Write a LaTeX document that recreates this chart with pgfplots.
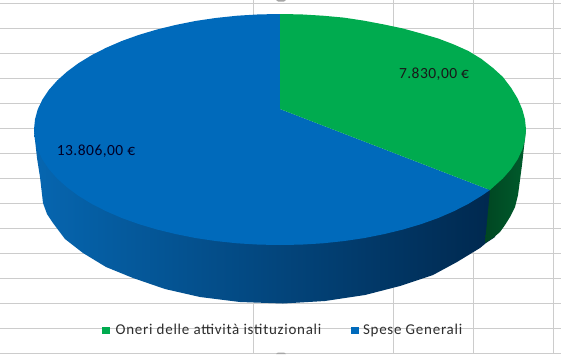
\documentclass[border=0pt]{standalone}
\usepackage{pgfplots}
\usepackage{fontspec}
\setmainfont{Carlito}
\newfontfamily\legfont[LetterSpace=5]{Carlito}
\newfontfamily\labfont[LetterSpace=3]{Carlito}
\pgfplotsset{compat=1.18}
\definecolor{gridc}{HTML}{CCCCCC}
\definecolor{topgreen}{HTML}{00AB4F}
\definecolor{topblue}{HTML}{006ABB}
\begin{document}
\begin{tikzpicture}
\begin{axis}[
  name=chart,
  scale only axis, width=561pt, height=354pt,
  xmin=0, xmax=561, ymin=0, ymax=354, y dir=reverse,
  axis line style={draw=none}, major tick length=0pt,
  xtick={253,393,473,553},
  ytick={3,28,53,78,103,128,153,178,203,228,253,278,303,328,353},
  xticklabels={}, yticklabels={},
  grid=major, grid style={gridc, line width=0.9pt},
  legend columns=2,
  legend style={at={(axis cs:102.5,330)}, anchor=west, draw=none, fill=none,
    font=\legfont\fontsize{15}{16}\selectfont, text=black!82,
    inner sep=0pt, outer sep=0pt,
    /tikz/column 1/.style={column sep=6.5pt},
    /tikz/column 2/.style={column sep=30pt},
    /tikz/column 3/.style={column sep=5pt},
    nodes={inner sep=0pt}},
  legend cell align=left,
]
% legend
\addlegendimage{only marks, mark=square*, mark size=3.3pt, color=topgreen}
\addlegendentry{Oneri delle attività istituzionali}
\addlegendimage{only marks, mark=square*, mark size=3.3pt, color=topblue}
\addlegendentry{Spese Generali}

% selection handles at the chart frame
\addplot[fill=black!35, draw=none] coordinates {(276,0) (286,0) (284,1.5) (278,1.5)} --cycle;
\addplot[fill=black!35, draw=none] coordinates {(276,354) (286,354) (284,352.5) (278,352.5)} --cycle;

% side of the blue slice
\addplot[draw=none, shade, left color={rgb,255:red,6;green,102;blue,176},
  middle color={rgb,255:red,0;green,56;blue,104}, right color={rgb,255:red,0;green,40;blue,78}]
 coordinates {
 (34,129.5) (35,140) (37,158) (40,177) (43,203) (47,214) (53,223) (65,239) (83,253)
 (106,267) (133,278) (165,289) (200,297) (240,302) (283,303.5) (325,301) (365,295)
 (400,286) (433,275) (457,262) (480,248) (486,243) (495,237) (495,190)
 } --cycle;

% side of the green slice
\addplot[draw=none, shade, left color={rgb,255:red,0;green,70;blue,34},
  right color={rgb,255:red,0;green,92;blue,44}]
 coordinates {
 (490,190) (485,243) (493,238) (500,232) (505,225) (510,217) (515,207) (518,195)
 (520,180) (522,165) (524,147) (525,138) (526,129.5)
 } --cycle;

% top of the blue slice
\addplot[fill=topblue, draw=none] coordinates {
 (280,109) (490,190) (481.5,195.8) (468.4,203.8) (453.9,211.2) (438.2,218) (421.2,224.1)
 (403,229.5) (384.1,234.1) (364.1,238.1) (343.7,241.1) (322.8,243.3) (301.4,244.6) (280,245)
 (258.6,244.6) (237.2,243.3) (216.3,241.1) (195.9,238.1) (175.9,234.1) (157,229.5)
 (138.8,224.1) (121.8,218) (106.1,211.2) (91.6,203.8) (78.5,195.8) (67,187.3) (57.1,178.4)
 (48.8,169) (42.4,159.4) (37.7,149.6) (35,139.6) (34,129.5) (35,119.4) (37.7,109.4)
 (42.4,99.6) (48.8,90) (57.1,80.6) (67,71.7) (78.5,63.2) (91.6,55.2) (106.1,47.8)
 (121.8,41) (138.8,34.9) (157,29.5) (175.9,24.9) (195.9,20.9) (216.3,17.9) (237.2,15.7)
 (258.6,14.4) (280,14)
 } --cycle;

% top of the green slice
\addplot[fill=topgreen, draw=none] coordinates {
 (280,109) (280,14) (301.4,14.4) (322.8,15.7) (343.7,17.6) (364.1,20.7) (384.1,24.5)
 (403,28.5) (421.2,33.5) (438.2,38.5) (453.9,44.5) (468.4,51) (481.5,59) (493,68)
 (502.9,77) (511.2,88) (517.6,98.5) (522.3,109.4) (525,119.4) (526,129.5) (525,139.6)
 (522.3,149.6) (517.6,159.4) (511.2,169) (502.9,178.4) (493,187.3) (490,190)
 } --cycle;

\node[anchor=center, font=\labfont\fontsize{15.5}{16}\selectfont, text=black!90, inner sep=0pt] at (axis cs:434,74.5) {7.830,00 €};
\node[anchor=center, font=\labfont\fontsize{15.5}{16}\selectfont, text=black!85!blue, inner sep=0pt] at (axis cs:96,151.5) {13.806,00 €};
\end{axis}
\pgfresetboundingbox
\path[use as bounding box] (chart.south west) rectangle (chart.north east);
\end{tikzpicture}
\end{document}
